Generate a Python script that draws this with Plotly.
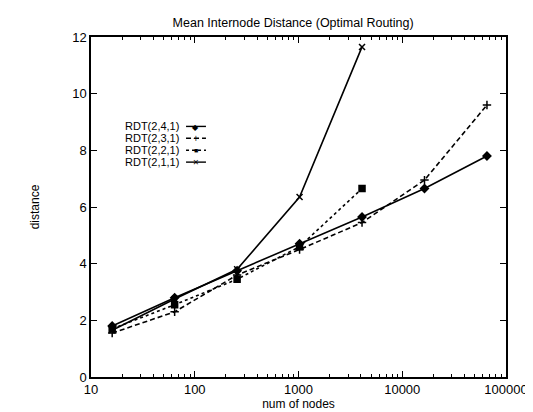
import plotly.graph_objects as go

nodes = [16, 64, 256, 1024, 4096, 16384, 65536]
rdt241 = [1.8, 2.8, 3.75, 4.7, 5.65, 6.65, 7.8]
rdt231 = [1.55, 2.3, 3.6, 4.5, 5.45, 6.95, 9.6]
rdt221 = [1.7, 2.55, 3.45, 4.6, 6.65]
rdt211 = [1.65, 2.75, 3.8, 6.35, 11.65]
series_names = ["RDT(2,4,1)", "RDT(2,3,1)", "RDT(2,2,1)", "RDT(2,1,1)"]
x_ticks = [10, 100, 1000, 10000, 100000]
y_ticks = [0, 2, 4, 6, 8, 10, 12]

styles = [
    dict(dash="solid", symbol="diamond", glyph="◆", gsize=8),
    dict(dash="5px,3px", symbol="cross-thin-open", glyph="+", gsize=10),
    dict(dash="dot", symbol="square", glyph="■", gsize=7),
    dict(dash="solid", symbol="x-thin-open", glyph="×", gsize=10),
]
data = [rdt241, rdt231, rdt221, rdt211]
FONT = "Liberation Sans, Arial"

fig = go.Figure()
for name, ys, st in zip(series_names, data, styles):
    fig.add_trace(go.Scatter(
        x=nodes[:len(ys)], y=ys, mode="lines+markers", name=name,
        line=dict(color="black", width=1.6, dash=st["dash"]),
        marker=dict(symbol=st["symbol"], size=6, color="black",
                    line=dict(color="black", width=1.5)),
        showlegend=False,
    ))

# gnuplot-style legend: text, then sample line with marker
row_y = [0.737, 0.702, 0.667, 0.632]
for name, st, yy in zip(series_names, styles, row_y):
    fig.add_annotation(x=0.217, y=yy, xref="paper", yref="paper", text=name,
                       showarrow=False, xanchor="right", yanchor="middle",
                       font=dict(size=11, color="black", family=FONT))
    fig.add_shape(type="line", xref="paper", yref="paper", x0=0.229, x1=0.277,
                  y0=yy, y1=yy, line=dict(color="black", width=1.4, dash=st["dash"]))
    fig.add_annotation(x=0.253, y=yy, xref="paper", yref="paper", text=st["glyph"],
                       showarrow=False, xanchor="center", yanchor="middle",
                       font=dict(size=st["gsize"], color="black"))

axis_common = dict(showline=True, linecolor="black", linewidth=1.5, mirror="ticks",
                   ticks="inside", ticklen=6, tickcolor="black", showgrid=False,
                   zeroline=False,
                   tickfont=dict(size=13, color="black", family=FONT))

fig.update_xaxes(type="log", range=[1, 5], tickvals=x_ticks,
                 ticktext=[str(v) for v in x_ticks],
                 minor=dict(ticks="inside", ticklen=3, tickcolor="black", showgrid=False,
                            dtick="D1"),
                 title=dict(text="num of nodes", standoff=2,
                            font=dict(size=12, color="black", family=FONT)),
                 **axis_common)
fig.update_yaxes(range=[0, 12], tickvals=y_ticks,
                 title=dict(text="distance", standoff=30,
                            font=dict(size=12, color="black", family=FONT)),
                 **axis_common)

fig.update_layout(
    width=533, height=412,
    margin=dict(l=83, r=35, t=29, b=41),
    paper_bgcolor="white", plot_bgcolor="white",
    title=dict(text="Mean Internode Distance (Optimal Routing)", x=0.535, xanchor="center",
               y=0.965, yanchor="middle",
               font=dict(size=12.5, color="black", family=FONT)),
)

fig.write_html("out.html")
